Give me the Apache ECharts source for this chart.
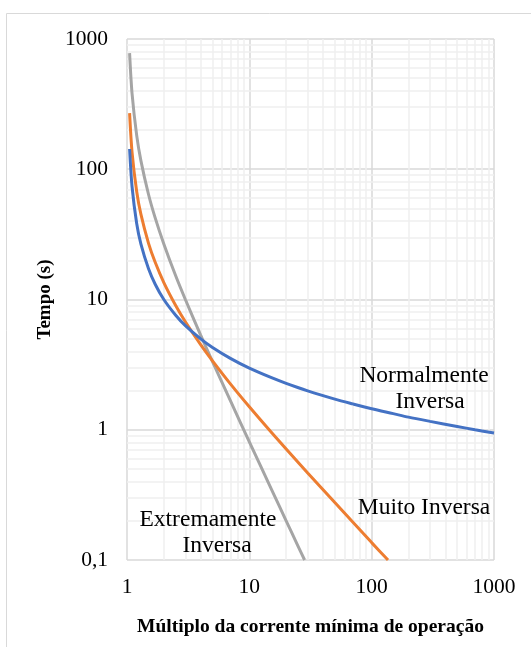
<!DOCTYPE html>
<html>
<head>
<meta charset="utf-8">
<script src="https://cdn.jsdelivr.net/npm/echarts@6/dist/echarts.min.js"></script>
<style>
  html, body { margin: 0; padding: 0; background: #fff; }
  #chart { width: 531px; height: 647px; }
</style>
</head>
<body>
<div id="chart"></div>
<script>
// valores (x = múltiplo, y = tempo em s)
const normalX = [1.05, 1.1, 1.2, 1.3, 1.5, 1.7, 2, 2.5, 3, 4, 5, 7, 10, 15, 20, 30, 50, 70, 100, 150, 200, 300, 500, 700, 1000]
const normalY = [143, 73.4, 38.3, 26.6, 17.2, 13.1, 10.0, 7.57, 6.30, 4.98, 4.28, 3.53, 2.97, 2.52, 2.27, 1.99, 1.72, 1.58, 1.45, 1.33, 1.25, 1.16, 1.06, 1.00, 0.945]

const muitoX = [1.05, 1.1, 1.2, 1.3, 1.5, 1.7, 2, 2.5, 3, 4, 5, 7, 10, 15, 20, 30, 50, 70, 100, 136]
const muitoY = [270, 135, 67.5, 45, 27, 19.3, 13.5, 9, 6.75, 4.5, 3.38, 2.25, 1.5, 0.964, 0.711, 0.466, 0.276, 0.196, 0.136, 0.1]

const extremaX = [1.05, 1.1, 1.2, 1.3, 1.5, 1.7, 2, 2.5, 3, 4, 5, 7, 10, 15, 20, 25, 28.3]
const extremaY = [780, 381, 182, 116, 64, 42.3, 26.7, 15.2, 10, 5.33, 3.33, 1.67, 0.808, 0.357, 0.2, 0.128, 0.1]

// linhas de grade secundárias
const minorX = [2, 3, 4, 5, 6, 7, 8, 9, 20, 30, 40, 50, 60, 70, 80, 90, 200, 300, 400, 500, 600, 700, 800, 900]
const minorY = [0.2, 0.3, 0.4, 0.5, 0.6, 0.7, 0.8, 0.9, 2, 3, 4, 5, 6, 7, 8, 9, 20, 30, 40, 50, 60, 70, 80, 90, 200, 300, 400, 500, 600, 700, 800, 900]

function zip(xs, ys) {
  return xs.map((x, i) => [x, ys[i]])
}

const serif = 'Liberation Serif'
const labelFont = '23.5px "Liberation Serif"'

const chart = echarts.init(document.getElementById('chart'))

// rótulos das curvas
function curveLabel(text, x, y) {
  return { type: 'text', x, y, z: 100, style: { text, font: labelFont, fill: '#000', align: 'center', verticalAlign: 'middle' } }
}

const option = {
  animation: false,
  grid: { left: 127, top: 39, right: 37, bottom: 87 },
  xAxis: {
    type: 'log',
    logBase: 10,
    min: 1,
    max: 1000,
    name: 'Múltiplo da corrente mínima de operação',
    nameLocation: 'middle',
    nameGap: 57,
    nameTextStyle: { fontFamily: serif, fontWeight: 'bold', fontSize: 19.5, color: '#000' },
    axisLine: { show: false },
    axisTick: { show: false },
    axisLabel: { fontFamily: serif, fontSize: 21.5, color: '#000', margin: 16, formatter: v => String(v) },
    splitLine: { show: true, lineStyle: { color: '#d9d9d9', width: 1.5 } }
  },
  yAxis: {
    type: 'log',
    logBase: 10,
    min: 0.1,
    max: 1000,
    name: 'Tempo (s)',
    nameLocation: 'middle',
    nameGap: 70,
    nameTextStyle: { fontFamily: serif, fontWeight: 'bold', fontSize: 19, color: '#000' },
    axisLine: { show: false },
    axisTick: { show: false },
    axisLabel: {
      fontFamily: serif, fontSize: 21.5, color: '#000', margin: 19,
      formatter: v => String(v).replace('.', ',')
    },
    splitLine: { show: true, lineStyle: { color: '#d9d9d9', width: 1.5 } }
  },
  graphic: [
    { type: 'rect', shape: { x: 6.5, y: 13.5, width: 530, height: 640 }, style: { fill: 'none', stroke: '#d9d9d9', lineWidth: 1 }, silent: true },
    curveLabel('Normalmente', 424, 376),
    curveLabel('Inversa', 430, 402),
    curveLabel('Muito Inversa', 424, 508),
    curveLabel('Extremamente', 208, 520),
    curveLabel('Inversa', 217, 546)
  ],
  series: [
    {
      name: 'grade',
      type: 'line',
      data: [],
      silent: true,
      z: 0,
      markLine: {
        silent: true,
        z: 0,
        symbol: 'none',
        animation: false,
        label: { show: false },
        lineStyle: { color: '#efefef', width: 1.5, type: 'solid' },
        data: minorX.map(v => ({ xAxis: v })).concat(minorY.map(v => ({ yAxis: v })))
      }
    },
    {
      name: 'Extremamente Inversa',
      type: 'line',
      data: zip(extremaX, extremaY),
      smooth: 0.3,
      showSymbol: false,
      z: 3,
      lineStyle: { color: '#a5a5a5', width: 3 }
    },
    {
      name: 'Muito Inversa',
      type: 'line',
      data: zip(muitoX, muitoY),
      smooth: 0.3,
      showSymbol: false,
      z: 4,
      lineStyle: { color: '#ed7d31', width: 3 }
    },
    {
      name: 'Normalmente Inversa',
      type: 'line',
      data: zip(normalX, normalY),
      smooth: 0.3,
      showSymbol: false,
      z: 5,
      lineStyle: { color: '#4472c4', width: 3 }
    }
  ]
}

chart.setOption(option)
</script>
</body>
</html>
